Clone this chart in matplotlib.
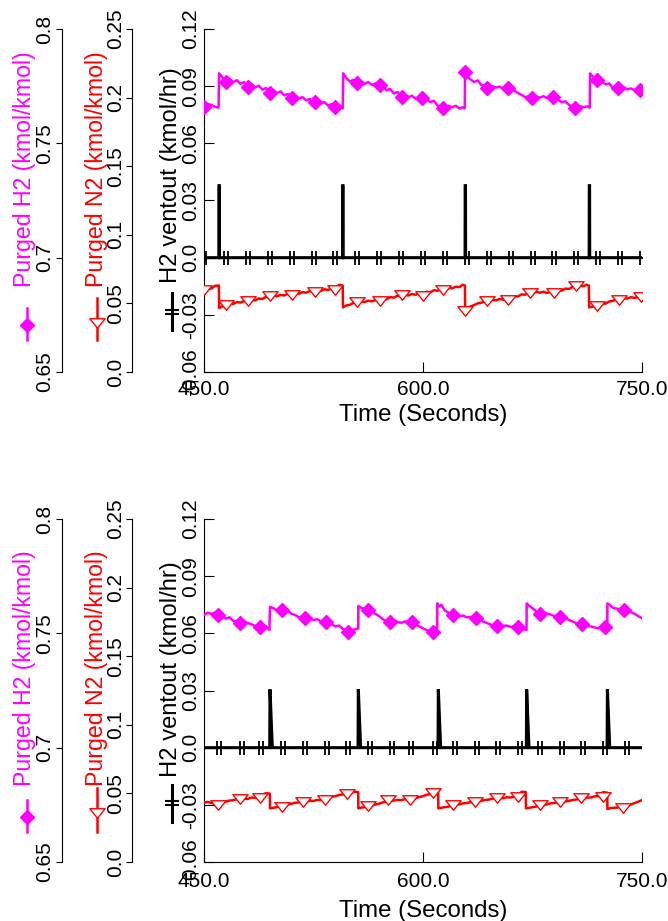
import numpy as np
import matplotlib
matplotlib.use('Agg')
import matplotlib.pyplot as plt
from matplotlib.path import Path
from matplotlib.lines import Line2D

plt.rcParams['font.family'] = ['Liberation Sans', 'DejaVu Sans']

# ---------------- data ----------------
x_ticks = [450, 600, 750]
x_ticklabels = ['450.0', '600.0', '750.0']
h2_ticks = [0.65, 0.7, 0.75, 0.8]
h2_ticklabels = ['0.65', '0.7', '0.75', '0.8']
n2_ticks = [0.0, 0.05, 0.1, 0.15, 0.2, 0.25]
n2_ticklabels = ['0.0', '0.05', '0.1', '0.15', '0.2', '0.25']
vent_ticks = [-0.06, -0.03, 0.0, 0.03, 0.06, 0.09, 0.12]
vent_ticklabels = ['-0.06', '-0.03', '0.0', '0.03', '0.06', '0.09', '0.12']

# ---- top panel: (time, value) samples ----
h2_top_pts = [
    (450, .7660), (452.5, .7672), (455, .7668), (457.5, .7660), (460, .7656), (460.3, .7806), (462.5, .7790),
    (465, .7772), (467.5, .7782), (470, .7768), (472.5, .7776), (475, .7760), (477.5, .7768), (480, .7750),
    (482.5, .7760), (485, .7745), (487.5, .7752), (490, .7735), (492.5, .7742), (495, .7722), (497.5, .7732),
    (500, .7720), (502.5, .7727), (505, .7710), (507.5, .7716), (510, .7700), (512.5, .7708), (515, .7695),
    (517.5, .7702), (520, .7688), (522.5, .7694), (525, .7680), (527.5, .7688), (530, .7675), (532.5, .7680),
    (535, .7665), (537.5, .7672), (540, .7660), (542.5, .7665), (545, .7653), (545.4, .7806), (547.5, .7785),
    (550, .7770), (552.5, .7778), (555, .7762), (557.5, .7770), (560, .7760), (562.5, .7768), (565, .7755),
    (567.5, .7762), (570, .7755), (572.5, .7748), (575, .7732), (577.5, .7738), (580, .7718), (582.5, .7725),
    (585, .7704), (587.5, .7712), (590, .7702), (592.5, .7708), (595, .7695), (597.5, .7702), (600, .7700),
    (602.5, .7692), (605, .7680), (607.5, .7686), (610, .7665), (612.5, .7660), (615, .7653), (617.5, .7664),
    (620, .7658), (622.5, .7664), (625, .7652), (627.5, .7658), (628.6, .7653), (628.8, .7813), (631, .7790),
    (632.5, .7780), (635, .7768), (637.5, .7775), (640, .7755), (642.5, .7750), (645, .7741), (647.5, .7750),
    (650, .7744), (652.5, .7748), (655, .7738), (657.5, .7742), (660, .7738), (662.5, .7730), (665, .7720),
    (667.5, .7712), (670, .7702), (672.5, .7706), (675, .7697), (677.5, .7705), (680, .7700), (682.5, .7706),
    (685, .7698), (687.5, .7705), (690, .7702), (692.5, .7690), (695, .7680), (697.5, .7684), (700, .7668),
    (702.5, .7660), (705, .7653), (707.5, .7662), (710, .7658), (712.5, .7662), (714.2, .7656), (714.4, .7806),
    (716, .7795), (717.5, .7785), (720, .7777), (722.5, .7770), (725, .7758), (727.5, .7762), (730, .7742),
    (732.5, .7748), (735, .7740), (737.5, .7745), (740, .7736), (742.5, .7740), (745, .7732), (747.5, .7738),
    (750, .7735)]
h2_top_marks = [
    (450, .7660), (465, .7770), (480, .7748), (495, .7719), (510, .7697), (526, .7680), (540, .7660),
    (554.6, .7762), (570.5, .7755), (585.4, .7704), (599.5, .7700), (614, .7653), (628.8, .7813), (643.6, .7741),
    (658.4, .7741), (674.4, .7697), (689.3, .7704), (704, .7653), (719, .7777), (733.5, .7741), (748.5, .7733)]

n2_top_pts = [
    (450, .0600), (452.5, .0612), (455, .0608), (457.5, .0628), (460.2, .0630), (460.4, .0466), (462.5, .0478),
    (465, .0490), (467.5, .0502), (470, .0496), (472.5, .0510), (475, .0506), (477.5, .0518), (480, .0515),
    (482.5, .0528), (485, .0522), (487.5, .0536), (490, .0532), (492.5, .0548), (495, .0545), (497.5, .0558),
    (500, .0552), (502.5, .0562), (505, .0558), (507.5, .0570), (510, .0563), (512.5, .0575), (515, .0570),
    (517.5, .0582), (520, .0578), (522.5, .0590), (525, .0583), (527.5, .0596), (530, .0590), (532.5, .0603),
    (535, .0598), (537.5, .0610), (540, .0605), (542.5, .0636), (545, .0630), (545.2, .0471), (547.5, .0485),
    (550, .0490), (552.5, .0505), (555, .0500), (557.5, .0514), (560, .0510), (562.5, .0520), (565, .0515),
    (567.5, .0524), (570, .0518), (572.5, .0532), (575, .0530), (577.5, .0546), (580, .0542), (582.5, .0556),
    (585, .0553), (587.5, .0564), (590, .0558), (592.5, .0568), (595, .0563), (597.5, .0574), (600, .0570),
    (602.5, .0585), (605, .0582), (607.5, .0596), (610, .0592), (612.5, .0606), (615, .0602), (617.5, .0614),
    (620, .0610), (622.5, .0622), (625, .0618), (627, .0636), (628.7, .0630), (628.9, .0454), (631, .0470),
    (633, .0480), (635, .0488), (637.5, .0500), (640, .0505), (642.5, .0518), (645, .0516), (647.5, .0526),
    (650, .0522), (652.5, .0532), (655, .0527), (657.5, .0538), (660, .0535), (662.5, .0552), (665, .0550),
    (667.5, .0566), (670, .0563), (672.5, .0578), (675, .0575), (677.5, .0584), (680, .0578), (682.5, .0585),
    (685, .0576), (687.5, .0586), (690, .0580), (692.5, .0596), (695, .0593), (697.5, .0608), (700, .0605),
    (702.5, .0620), (705, .0618), (707.5, .0630), (710, .0626), (712, .0636), (713.6, .0630), (713.8, .0471),
    (716, .0476), (718, .0482), (720, .0490), (722.5, .0500), (725, .0498), (727.5, .0514), (730, .0518),
    (732.5, .0530), (735, .0527), (737.5, .0538), (740, .0535), (742.5, .0545), (745, .0540), (747.5, .0548),
    (750, .0544)]
n2_top_marks = [
    (450, .0600), (465, .0490), (480, .0515), (495, .0551), (510, .0563), (526, .0583), (540, .0600),
    (554.5, .0510), (570.5, .0515), (585.4, .0559), (600, .0555), (614, .0600), (629, .0447), (644, .0519),
    (658.5, .0527), (673.5, .0575), (689.5, .0575), (704.5, .0624), (719.5, .0479), (734, .0527), (749, .0544)]

vent_top_pts = [
    (450, 0.0), (460.2, 0.0), (460.3, .0378), (460.5, .0378), (460.6, 0.0), (544.9, 0.0), (545.0, .0378),
    (545.2, .0378), (545.3, 0.0), (628.8, 0.0), (628.9, .0378), (629.1, .0378), (629.2, 0.0), (713.8, 0.0),
    (713.9, .0378), (714.1, .0378), (714.2, 0.0), (750, 0.0)]
vent_top_marks = [
    (450, 0.0), (465, 0.0), (480, 0.0), (495, 0.0), (510, 0.0), (525, 0.0), (540, 0.0), (555, 0.0), (570, 0.0),
    (585, 0.0), (600, 0.0), (615, 0.0), (630, 0.0), (645, 0.0), (660, 0.0), (675, 0.0), (690, 0.0), (705, 0.0),
    (720, 0.0), (735, 0.0), (750, 0.0)]

# ---- bottom panel ----
h2_bot_pts = [
    (450, .7580), (452.5, .7590), (455, .7585), (457.5, .7590), (460, .7580), (462.5, .7575), (465, .7565),
    (467.5, .7570), (470, .7555), (472.5, .7552), (475, .7544), (477.5, .7552), (480, .7545), (482.5, .7540),
    (485, .7532), (487.5, .7538), (490, .7526), (492.5, .7530), (494.8, .7515), (495.2, .7616), (497.5, .7610),
    (500, .7600), (502.5, .7605), (505, .7592), (507.5, .7598), (510, .7585), (512.5, .7580), (515, .7570),
    (517.5, .7574), (520, .7564), (522.5, .7568), (525, .7558), (527.5, .7562), (530, .7552), (532.5, .7556),
    (535, .7550), (537.5, .7540), (540, .7530), (542.5, .7534), (545, .7520), (547.5, .7512), (550, .7508),
    (552.5, .7516), (555.6, .7521), (555.7, .7620), (557.5, .7612), (560, .7605), (562.5, .7602), (565, .7592),
    (567.5, .7585), (570, .7575), (572.5, .7562), (575, .7552), (577.5, .7556), (580, .7558), (582.5, .7550),
    (585, .7546), (587.5, .7552), (590, .7550), (592.5, .7548), (595, .7538), (597.5, .7530), (600, .7522),
    (602.5, .7514), (605, .7508), (607.5, .7505), (609.7, .7510), (609.8, .7631), (611, .7618), (612.5, .7625),
    (615, .7600), (617.5, .7590), (620, .7582), (622.5, .7578), (625, .7574), (627.5, .7578), (630, .7570),
    (632.5, .7572), (635, .7568), (637.5, .7562), (640, .7556), (642.5, .7548), (645, .7542), (647.5, .7535),
    (650, .7533), (652.5, .7538), (655, .7532), (657.5, .7534), (660, .7528), (662.5, .7530), (665, .7524),
    (667.5, .7520), (670.9, .7515), (671, .7631), (672.5, .7622), (675, .7610), (677.5, .7596), (680, .7585),
    (682.5, .7592), (685, .7586), (687.5, .7582), (690, .7575), (692.5, .7572), (695, .7568), (697.5, .7566),
    (700, .7558), (702.5, .7552), (705, .7544), (707.5, .7540), (710, .7535), (712.5, .7532), (715, .7530),
    (717.5, .7526), (720, .7522), (722.5, .7526), (726.2, .7520), (726.3, .7631), (728, .7624), (730, .7612),
    (732.5, .7608), (735, .7605), (737.5, .7602), (740, .7600), (742.5, .7592), (745, .7585), (747.5, .7575),
    (750, .7566)]
h2_bot_marks = [
    (459.9, .7580), (474.7, .7544), (488.4, .7526), (503.2, .7602), (519.0, .7566), (533.6, .7551),
    (548.8, .7507), (562.5, .7602), (577.4, .7551), (592.3, .7551), (607.1, .7505), (620.8, .7580),
    (636.3, .7568), (650.5, .7533), (665.3, .7526), (680.1, .7585), (693.8, .7573), (708.7, .7541),
    (724.6, .7526), (737.7, .7602)]

n2_bot_pts = [
    (450, .0434), (452.5, .0438), (455, .0430), (457.5, .0428), (460, .0425), (462.5, .0436), (465, .0440),
    (467.5, .0448), (470, .0450), (472.5, .0458), (475, .0459), (477.5, .0462), (480, .0460), (482.5, .0470),
    (485, .0468), (487.5, .0485), (490, .0490), (492.5, .0502), (495.1, .0498), (495.2, .0391), (497.5, .0395),
    (500, .0400), (502.5, .0406), (505, .0410), (507.5, .0420), (510, .0425), (512.5, .0432), (515, .0434),
    (517.5, .0440), (520, .0440), (522.5, .0446), (525, .0445), (527.5, .0452), (530, .0451), (532.5, .0460),
    (535, .0465), (537.5, .0475), (540, .0480), (542.5, .0488), (545, .0493), (547.5, .0498), (550, .0500),
    (552.5, .0512), (555.6, .0510), (555.7, .0391), (557.5, .0396), (560, .0400), (562.5, .0404), (565, .0410),
    (567.5, .0420), (570, .0425), (572.5, .0435), (575, .0440), (577.5, .0447), (580, .0448), (582.5, .0452),
    (585, .0451), (587.5, .0457), (590, .0455), (592.5, .0462), (595, .0465), (597.5, .0474), (600, .0480),
    (602.5, .0490), (605, .0495), (607.5, .0512), (610.4, .0510), (610.5, .0391), (612.5, .0395), (615, .0400),
    (617.5, .0404), (620, .0410), (622.5, .0418), (625, .0420), (627.5, .0428), (630, .0430), (632.5, .0436),
    (635, .0434), (637.5, .0442), (640, .0445), (642.5, .0452), (645, .0455), (647.5, .0462), (650, .0463),
    (652.5, .0468), (655, .0465), (657.5, .0472), (660, .0470), (662.5, .0476), (665, .0475), (667.5, .0512),
    (670.4, .0510), (670.5, .0391), (672.5, .0394), (675, .0400), (677.5, .0404), (680, .0410), (682.5, .0418),
    (685, .0420), (687.5, .0428), (690, .0430), (692.5, .0436), (695, .0434), (697.5, .0442), (700, .0445),
    (702.5, .0452), (705, .0455), (707.5, .0462), (710, .0463), (712.5, .0470), (715, .0470), (717.5, .0478),
    (720, .0480), (723.5, .0510), (726.2, .0505), (726.3, .0386), (728, .0392), (730, .0395), (732.5, .0396),
    (735, .0400), (737.5, .0405), (740, .0410), (742.5, .0420), (745, .0430), (747.5, .0440), (750, .0451)]
n2_bot_marks = [
    (459.9, .0415), (474.7, .0459), (488.4, .0468), (503.2, .0403), (518.0, .0434), (532.9, .0451),
    (547.7, .0493), (562.5, .0410), (576.2, .0451), (591.1, .0451), (607.1, .0500), (620.8, .0415),
    (635.6, .0434), (650.5, .0463), (665.3, .0475), (680.1, .0415), (694.1, .0434), (708.5, .0463),
    (723.4, .0475), (737.0, .0395)]

vent_bot_pts = [
    (450, 0.0), (495.0, 0.0), (495.2, .0306), (496.8, 0.0), (555.5, 0.0), (555.7, .0306), (557.3, 0.0),
    (610.3, 0.0), (610.5, .0306), (612.1, 0.0), (670.8, 0.0), (671.0, .0306), (672.6, 0.0), (726.1, 0.0),
    (726.3, .0306), (727.9, 0.0), (750, 0.0)]
vent_bot_marks = [
    (460.5, 0.0), (475.7, 0.0), (489.0, 0.0), (504.3, 0.0), (519.2, 0.0), (534.0, 0.0), (548.9, 0.0),
    (563.7, 0.0), (578.6, 0.0), (592.1, 0.0), (608.0, 0.0), (621.9, 0.0), (636.8, 0.0), (651.5, 0.0),
    (666.4, 0.0), (680.1, 0.0), (695.0, 0.0), (709.8, 0.0), (724.7, 0.0), (739.5, 0.0)]

h2_label = 'Purged H2 (kmol/kmol)'
n2_label = 'Purged N2 (kmol/kmol)'
vent_label = 'H2 ventout (kmol/hr)'
x_label = 'Time (Seconds)'

# ---------------- styling ----------------
W, H = 668, 921
MAGENTA = '#FF00FF'
RED = '#FF0000'
TICK_FS = 15
LABEL_FS = 17


def fx(x):
    return x / W


def fy(y):
    return 1 - y / H


def xy(pts):
    return [p[0] for p in pts], [p[1] for p in pts]


vent_marker = Path([(-0.22, -1), (-0.22, 1), (0.22, -1), (0.22, 1), (-0.7, 0), (0.7, 0)],
                   [Path.MOVETO, Path.LINETO, Path.MOVETO, Path.LINETO, Path.MOVETO, Path.LINETO])
vent_marker_rot = Path([(-1, -0.22), (1, -0.22), (-1, 0.22), (1, 0.22), (0, -0.7), (0, 0.7)],
                       [Path.MOVETO, Path.LINETO, Path.MOVETO, Path.LINETO, Path.MOVETO, Path.LINETO])
tri_marker = Path([(-1, 0.62), (1, 0.62), (0, -0.62), (-1, 0.62)],
                  [Path.MOVETO, Path.LINETO, Path.LINETO, Path.CLOSEPOLY])

panels = [
    dict(top=29, bottom=372, xpad=5.5, labelpad=4,
         h2=(h2_top_pts, h2_top_marks), n2=(n2_top_pts, n2_top_marks), vent=(vent_top_pts, vent_top_marks),
         lab_h2=287, lab_n2=287, lab_vent=283,
         leg_h2=(308, 340, 325), leg_n2=(298, 340, 323), leg_vent=(293, 330, 312)),
    dict(top=519, bottom=862, xpad=7.5, labelpad=6,
         h2=(h2_bot_pts, h2_bot_marks), n2=(n2_bot_pts, n2_bot_marks), vent=(vent_bot_pts, vent_bot_marks),
         lab_h2=786, lab_n2=786, lab_vent=777,
         leg_h2=(800, 832, 817), leg_n2=(788, 832, 813), leg_vent=(785, 822, 803)),
]

fig = plt.figure(figsize=(W / 100, H / 100), dpi=100)
AX_L, AX_R = 204, 642
AX_W = AX_R - AX_L
fits = []

for p in panels:
    ax = fig.add_axes([fx(AX_L), fy(p['bottom']), AX_W / W, (p['bottom'] - p['top']) / H])
    ax.set_xlim(450, 750)
    ax.set_ylim(-0.06, 0.12)
    for s in ['top', 'right']:
        ax.spines[s].set_visible(False)
    ax.set_xticks(x_ticks, x_ticklabels)
    ax.set_yticks(vent_ticks, vent_ticklabels, rotation=90, va='center')
    ax.tick_params(axis='x', direction='in', length=7, pad=p['xpad'], labelsize=TICK_FS)
    ax.tick_params(axis='y', direction='in', length=7, pad=3, labelsize=TICK_FS)
    xl = ax.set_xlabel(x_label, fontsize=LABEL_FS, labelpad=p['labelpad'])
    fits.append((xl, 169, 'w'))

    (vpts, vmarks) = p['vent']
    vt, vv = xy(vpts)
    vmt, vmv = xy(vmarks)
    ax.plot(vt, vv, color='black', lw=2.2, solid_joinstyle='miter')
    ax.plot(vmt, vmv, linestyle='none', marker=vent_marker, ms=10, mew=1.3, mec='black', mfc='none')

    # H2 axis
    axh = ax.twinx()
    axh.set_ylim(0.65, 0.8)
    for s in ['top', 'right', 'bottom']:
        axh.spines[s].set_visible(False)
    axh.spines['left'].set_visible(True)
    axh.spines['left'].set_position(('axes', (62 - AX_L) / AX_W))
    axh.yaxis.set_ticks_position('left')
    axh.set_yticks(h2_ticks, h2_ticklabels, rotation=90, va='center')
    axh.tick_params(axis='y', direction='out', length=4, pad=2, labelsize=TICK_FS)
    hpts, hmarks = p['h2']
    ht, hv = xy(hpts)
    hmt, hmv = xy(hmarks)
    axh.plot(ht, hv, color=MAGENTA, lw=1.8)
    axh.plot(hmt, hmv, linestyle='none', marker='D', ms=7.2, color=MAGENTA)

    # N2 axis
    axn = ax.twinx()
    axn.set_ylim(0.0, 0.25)
    for s in ['top', 'right', 'bottom']:
        axn.spines[s].set_visible(False)
    axn.spines['left'].set_visible(True)
    axn.spines['left'].set_position(('axes', (132 - AX_L) / AX_W))
    axn.yaxis.set_ticks_position('left')
    axn.set_yticks(n2_ticks, n2_ticklabels, rotation=90, va='center')
    axn.tick_params(axis='y', direction='out', length=4, pad=1, labelsize=TICK_FS)
    npts, nmarks = p['n2']
    nt, nv = xy(npts)
    nmt, nmv = xy(nmarks)
    axn.plot(nt, nv, color=RED, lw=1.8)
    axn.plot(nmt, nmv, linestyle='none', marker=tri_marker, ms=11, mew=1.0, mec=RED, mfc='white')

    # axis labels with legend samples
    t1 = fig.text(fx(25), fy(p['lab_h2']), h2_label, rotation=90, ha='center', va='bottom',
                  color=MAGENTA, fontsize=LABEL_FS)
    t2 = fig.text(fx(96), fy(p['lab_n2']), n2_label, rotation=90, ha='center', va='bottom',
                  color=RED, fontsize=LABEL_FS)
    t3 = fig.text(fx(171), fy(p['lab_vent']), vent_label, rotation=90, ha='center', va='bottom',
                  color='black', fontsize=LABEL_FS)
    fits += [(t1, 237, 'h'), (t2, 237, 'h'), (t3, 216, 'h')]

    y0, y1, ym = p['leg_h2']
    fig.add_artist(Line2D([fx(27), fx(27)], [fy(y0), fy(y1)], transform=fig.transFigure, color=MAGENTA, lw=1.8))
    fig.add_artist(Line2D([fx(27)], [fy(ym)], transform=fig.transFigure, marker='D', ms=7.2,
                          color=MAGENTA, linestyle='none'))
    y0, y1, ym = p['leg_n2']
    fig.add_artist(Line2D([fx(97), fx(97)], [fy(y0), fy(y1)], transform=fig.transFigure, color=RED, lw=1.8))
    fig.add_artist(Line2D([fx(97)], [fy(ym)], transform=fig.transFigure, marker=tri_marker, ms=11,
                          mew=1.0, mec=RED, mfc='white', linestyle='none'))
    y0, y1, ym = p['leg_vent']
    fig.add_artist(Line2D([fx(172), fx(172)], [fy(y0), fy(y1)], transform=fig.transFigure, color='black', lw=2.2))
    fig.add_artist(Line2D([fx(172)], [fy(ym)], transform=fig.transFigure, marker=vent_marker_rot, ms=10,
                          mew=1.5, mec='black', mfc='none', linestyle='none'))

# fit label lengths to the reference's measured text lengths
fig.canvas.draw()
renderer = fig.canvas.get_renderer()
for txt, target, dim in fits:
    bb = txt.get_window_extent(renderer)
    cur = bb.height if dim == 'h' else bb.width
    if cur > 0:
        txt.set_fontsize(txt.get_fontsize() * target / cur)

fig.savefig('out.png', dpi=100, facecolor='white')
